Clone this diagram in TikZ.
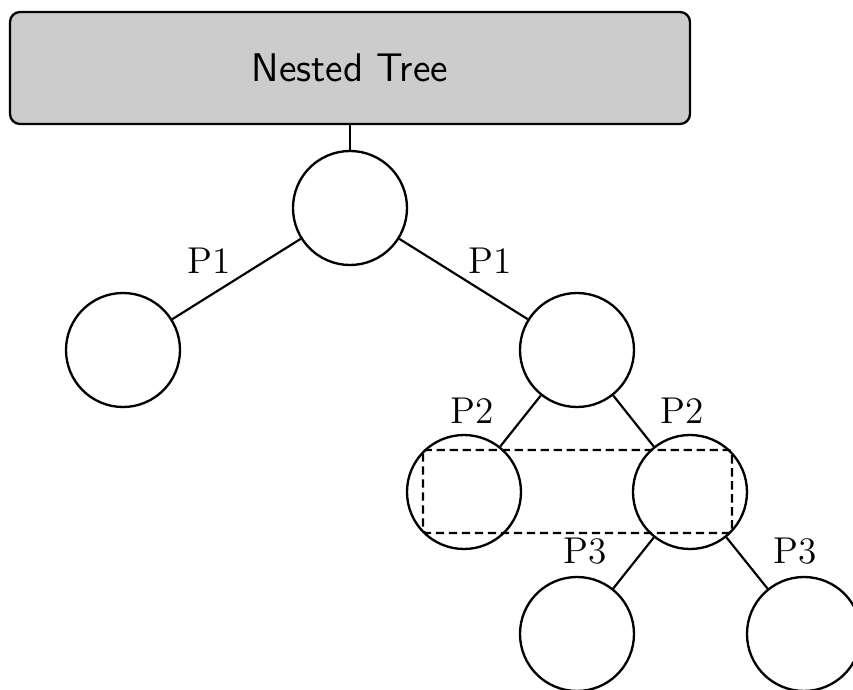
\documentclass[tikz,border=0pt]{standalone}
\begin{document}
\begin{tikzpicture}[x=0.3pt,y=-0.3pt,
  treenode/.style={circle, draw, line width=0.7pt, minimum size=34.2pt, inner sep=0pt},
  titlebox/.style={draw, rounded corners=3pt, fill=gray!40, line width=0.7pt,
    minimum width=204pt, minimum height=33.6pt, inner sep=0pt, font=\sffamily\large},
  branch/.style={line width=0.65pt},
  plabel/.style={font=\fontsize{11.2}{13}\selectfont, inner sep=0pt},
  groupbox/.style={draw, line width=0.65pt, dash pattern=on 2.5pt off 1.4pt, rounded corners=1pt}]
  \useasboundingbox (0,0) rectangle (853,690);

  % header
  \node[titlebox] (title) at (350,68) {Nested Tree};

  % tree nodes
  \node[treenode] (root) at (350,208) {};
  \node[treenode] (a) at (123,350) {};
  \node[treenode] (b) at (577,350) {};
  \node[treenode] (ba) at (464,492) {};
  \node[treenode] (bb) at (690,492) {};
  \node[treenode] (bba) at (577,634) {};
  \node[treenode] (bbb) at (804,634) {};

  % branches
  \draw[branch] (title) -- (root);
  \draw[branch] (root) -- (a);
  \draw[branch] (root) -- (b);
  \draw[branch] (b) -- (ba);
  \draw[branch] (b) -- (bb);
  \draw[branch] (bb) -- (bba);
  \draw[branch] (bb) -- (bbb);

  % branch labels
  \node[plabel] (l1) at (209,261) {P1};
  \node[plabel] (l2) at (490,261) {P1};
  \node[plabel] (l3) at (472,411) {P2};
  \node[plabel] (l4) at (682,411) {P2};
  \node[plabel] (l5) at (585,551) {P3};
  \node[plabel] (l6) at (795,551) {P3};

  % grouping of the second level
  \draw[groupbox] (423,450) rectangle (732,533);
\end{tikzpicture}
\end{document}
